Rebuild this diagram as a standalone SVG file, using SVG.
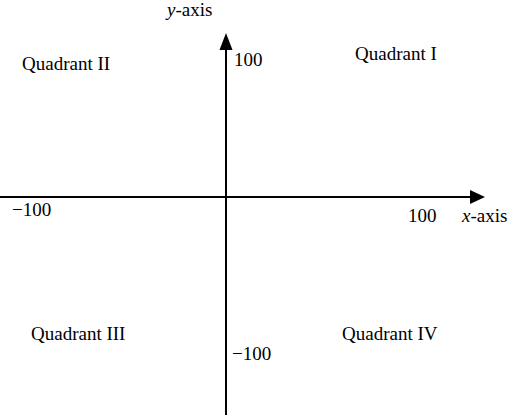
<svg xmlns="http://www.w3.org/2000/svg" width="508" height="415" viewBox="0 0 508 415">
<style>
text{font-family:"Liberation Serif","Times New Roman",serif;font-size:19px;fill:#000}
.ax{stroke:#000;stroke-width:2;fill:none}
</style>
<rect width="508" height="415" fill="#fff"/>
<g id="connectors">
<line class="ax" x1="0" y1="197" x2="472" y2="197"/>
<polygon points="485,197 470,190 470,204" fill="#000"/>
<line class="ax" x1="226" y1="415" x2="226" y2="48"/>
<polygon points="226,33 219.5,50 232.5,50" fill="#000"/>
</g>
<g id="labels">
<text x="167" y="16"><tspan font-style="italic">y</tspan>-axis</text>
<text x="462" y="222"><tspan font-style="italic">x</tspan>-axis</text>
<text x="234" y="66">100</text>
<text x="408" y="222">100</text>
<text x="12" y="216">−100</text>
<text x="232" y="360">−100</text>
</g>
<g id="q1"><text x="355" y="60">Quadrant I</text></g>
<g id="q2"><text x="22" y="70">Quadrant II</text></g>
<g id="q3"><text x="31" y="340">Quadrant III</text></g>
<g id="q4"><text x="342" y="340">Quadrant IV</text></g>
</svg>
